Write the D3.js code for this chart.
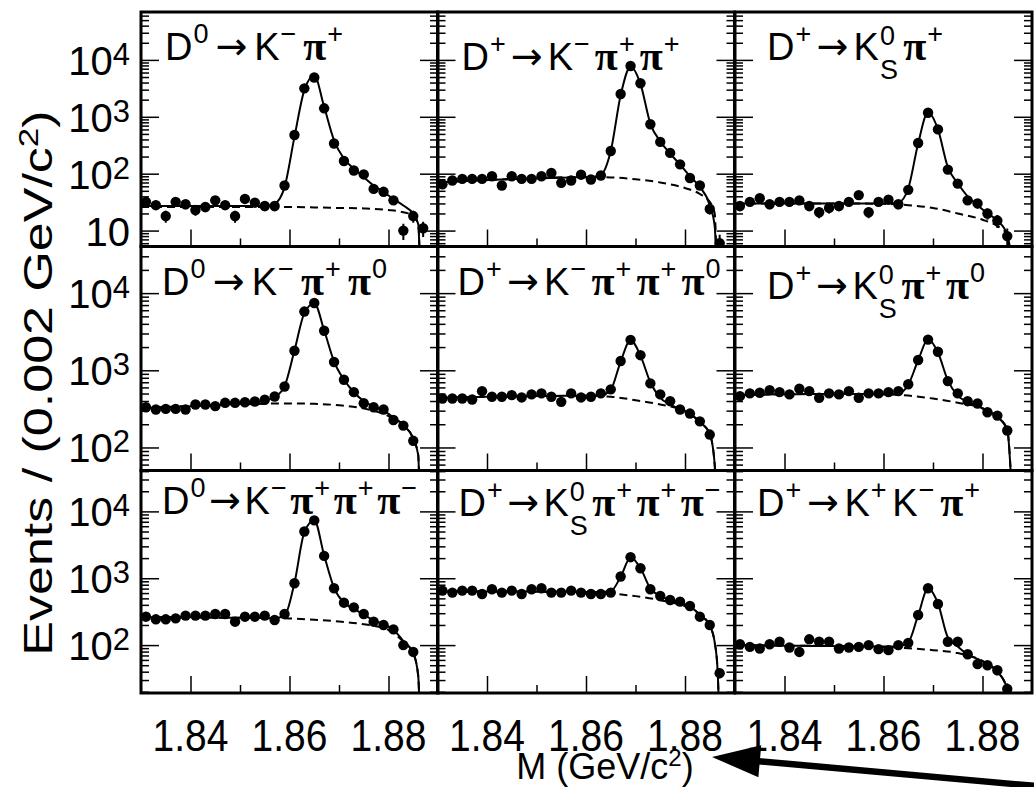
<!DOCTYPE html>
<html>
<head>
<meta charset="utf-8">
<script src="https://cdn.jsdelivr.net/npm/d3@7"></script>
<style>
  body { margin: 0; background: #fff; }
  svg { display: block; }
</style>
</head>
<body>
<svg id="chart" width="1034" height="787"></svg>
<script>
// ---- data ----
// bin centres, 0.002 GeV/c^2 bins
var massBins = [1.831, 1.833, 1.835, 1.837, 1.839, 1.841, 1.843, 1.845, 1.847, 1.849,
                1.851, 1.853, 1.855, 1.857, 1.859, 1.861, 1.863, 1.865, 1.867, 1.869,
                1.871, 1.873, 1.875, 1.877, 1.879, 1.881, 1.883, 1.885, 1.887];
// sample points of the fitted curve (signal + background)
var fitMass = [1.830, 1.831, 1.833, 1.835, 1.837, 1.839, 1.841, 1.843, 1.845, 1.847, 1.849,
               1.851, 1.853, 1.855, 1.857, 1.859, 1.861, 1.863, 1.865, 1.867, 1.869,
               1.871, 1.873, 1.875, 1.877, 1.879, 1.881, 1.883, 1.885, 1.886, 1.8866, 1.8872];
// sample points of the background curve (dashed)
var bkgMass = [1.830, 1.840, 1.850, 1.860, 1.865, 1.870, 1.875, 1.880, 1.883, 1.885, 1.886, 1.8866, 1.8872];

var massRange = [1.83, 1.89];
var xTicksMajor = [1.84, 1.86, 1.88];
var xTicksMinor = [1.85, 1.87];
var rowRange = [[5.25, 69500], [50.3, 40200], [19.2, 40900]];
var rowMajorTicks = [[10, 100, 1000, 10000], [100, 1000, 10000], [100, 1000, 10000]];

// D0 -> K- pi+
var countsKpi = [32, 28, 18, 32, 29, 23, 26, 34, 28, 18, 36, 31, 27, 27, 62, 478, 3160, 4900, 1410, 340,
                 167, 114, 97, 54, 48, 34, 10, 18, 11];
var fitKpi = [27, 27, 27, 27, 27, 27, 27, 27, 27, 27, 27, 27, 27, 27, 29.6, 58, 444, 2950, 5300, 1500, 387,
              183, 123, 87, 62, 47.5, 36, 27.6, 19.6, 13, 0.3, null];
var bkgKpi = [26, 26, 26, 26, 25.5, 25, 24.5, 23, 21, 18.4, 13, 0.3, null];

// D+ -> K- pi+ pi+
var countsKpipi = [65, 76, 81, 81, 81, 90, 62, 90, 81, 81, 90, 103, 69, 76, 96, 79, 93, 251, 2520, 7800,
                   3880, 740, 362, 232, 146, 84, 62, 24, 6];
var fitKpipi = [70, 71, 72, 74, 75, 77, 78, 79, 80, 81, 82, 83, 84, 85, 86, 87, 87, 95, 250, 2400, 7600,
                3800, 760, 370, 225, 145, 90, 58, 28, 12, 0.3, null];
var bkgKpipi = [71, 78, 84, 87, 86, 80, 70, 56, 44, 32, 20, 0.3, null];

// D+ -> Ks pi+
var countsKspi = [27, 32, 37, 29, 32, 32, 34, 27, 21, 25, 27, 32, 42, 21, 32, 35, 29, 52, 346, 1180,
                  600, 118, 67, 34, 30, 20, 15, 8, null];
var fitKspi = [30, 30, 30, 30, 30, 30, 30, 30, 30, 30, 30, 30, 30, 30, 30, 30, 30, 31, 55, 340, 1200,
               600, 130, 68, 40, 28, 20, 15, 8.5, 2, null, null];
var bkgKspi = [30, 30, 30, 29.5, 28, 25, 20, 15.5, 12, 8.5, 2, null, null];

// D0 -> K- pi+ pi0
var countsKpipi0 = [332, 310, 316, 316, 310, 360, 360, 343, 379, 379, 386, 394, 415, 458, 617, 1790, 5770, 7440, 3250, 1280,
                    755, 521, 374, 332, 310, 227, 192, 122, null];
var fitKpipi0 = [322, 325, 328, 332, 336, 340, 345, 350, 355, 360, 365, 372, 385, 405, 450, 620, 1800, 5500, 7400, 3300, 1300,
                 760, 520, 400, 340, 300, 245, 195, 130, 80, 1, null];
var bkgKpipi0 = [325, 345, 362, 372, 368, 352, 320, 255, 195, 130, 80, 1, null];

// D+ -> K- pi+ pi+ pi0
var countsKpipipi0 = [431, 431, 431, 418, 537, 454, 454, 477, 445, 487, 502, 454, 390, 502, 445, 454, 502, 566, 1320, 2480,
                      1570, 676, 487, 398, 310, 275, 218, 147, null];
var fitKpipipi0 = [438, 440, 443, 446, 449, 452, 455, 457, 459, 461, 463, 465, 466, 467, 468, 469, 470, 475, 560, 1300, 2450,
                   1550, 700, 440, 360, 315, 270, 215, 150, 60, 1, null];
var bkgKpipipi0 = [440, 452, 462, 468, 455, 410, 360, 295, 215, 150, 60, 1, null];

// D+ -> Ks pi+ pi0
var countsKspipi0 = [462, 502, 512, 553, 522, 487, 577, 537, 440, 502, 487, 537, 440, 502, 502, 522, 537, 660, 1360, 2500,
                     1740, 725, 502, 398, 371, 286, 259, 166, null];
var fitKspipi0 = [478, 480, 482, 484, 486, 488, 490, 491, 492, 493, 494, 495, 495, 494, 493, 492, 490, 500, 650, 1350, 2500,
                  1700, 740, 470, 390, 345, 300, 250, 170, 20, null, null];
var bkgKspipi0 = [480, 490, 495, 490, 470, 430, 380, 320, 250, 170, 20, null, null];

// D0 -> K- pi+ pi+ pi-
var countsKpipipi = [266, 243, 243, 251, 276, 276, 276, 292, 292, 224, 266, 266, 276, 237, 292, 841, 5000, 7330, 2160, 708,
                     431, 367, 292, 224, 200, 172, 100, 79, null];
var fitKpipipi = [262, 262, 262, 261, 261, 260, 260, 259, 258, 257, 256, 255, 254, 253, 252, 275, 850, 4900, 7400, 2200, 720,
                  430, 350, 285, 235, 205, 170, 115, 77, 35, 1, null];
var bkgKpipipi = [262, 259, 256, 250, 240, 225, 205, 168, 112, 75, 35, 1, null];

// D+ -> Ks pi+ pi+ pi-
var countsKspipipi = [653, 610, 653, 653, 582, 684, 610, 653, 582, 684, 708, 610, 610, 653, 610, 582, 582, 610, 1060, 2065,
                      1410, 684, 543, 473, 447, 385, 266, 200, 38];
var fitKspipipi = [635, 635, 635, 634, 634, 633, 633, 632, 632, 631, 631, 630, 630, 629, 628, 626, 624, 622, 640, 1050, 2050,
                   1420, 700, 545, 470, 430, 375, 285, 195, 110, 40, 1];
var bkgKspipipi = [635, 630, 628, 622, 590, 540, 470, 380, 290, 195, 110, 40, 1];

// D+ -> K+ K- pi+
var countsKKpi = [103, 94, 89, 103, 112, 92, 79, 122, 112, 112, 89, 92, 94, 100, 87, 84, 100, 108, 282, 708,
                  412, 112, 112, 73, 52, 50, 42, 22, null];
var fitKKpi = [100, 100, 100, 99, 99, 98, 98, 98, 97, 97, 97, 96, 96, 96, 95, 95, 95, 97, 110, 280, 700,
               420, 130, 95, 72, 62, 52, 40, 22, 5, null, null];
var bkgKKpi = [100, 98, 97, 94, 90, 84, 76, 58, 40, 22, 5, null, null];

// panel titles: [base, superscript, subscript]
var titles = [
  [['D', '0'], ['→'], ['K', '−'], ['π', '+']],
  [['D', '+'], ['→'], ['K', '−'], ['π', '+'], ['π', '+']],
  [['D', '+'], ['→'], ['K', '0', 'S'], ['π', '+']],
  [['D', '0'], ['→'], ['K', '−'], ['π', '+'], ['π', '0']],
  [['D', '+'], ['→'], ['K', '−'], ['π', '+'], ['π', '+'], ['π', '0']],
  [['D', '+'], ['→'], ['K', '0', 'S'], ['π', '+'], ['π', '0']],
  [['D', '0'], ['→'], ['K', '−'], ['π', '+'], ['π', '+'], ['π', '−']],
  [['D', '+'], ['→'], ['K', '0', 'S'], ['π', '+'], ['π', '+'], ['π', '−']],
  [['D', '+'], ['→'], ['K', '+'], ['K', '−'], ['π', '+']]
];

var panels = [
  {counts: countsKpi, fit: fitKpi, bkg: bkgKpi},
  {counts: countsKpipi, fit: fitKpipi, bkg: bkgKpipi},
  {counts: countsKspi, fit: fitKspi, bkg: bkgKspi},
  {counts: countsKpipi0, fit: fitKpipi0, bkg: bkgKpipi0},
  {counts: countsKpipipi0, fit: fitKpipipi0, bkg: bkgKpipipi0},
  {counts: countsKspipi0, fit: fitKspipi0, bkg: bkgKspipi0},
  {counts: countsKpipipi, fit: fitKpipipi, bkg: bkgKpipipi},
  {counts: countsKspipipi, fit: fitKspipipi, bkg: bkgKspipipi},
  {counts: countsKKpi, fit: fitKKpi, bkg: bkgKKpi}
];

// ---- layout ----
var colLeft = [141, 437.5, 735], colW = 297;
var rowTop = [12, 246.5, 470.5], rowBottom = [246.5, 470.5, 693];
// where each title starts inside its pad (dx from left, baseline dy from top) and how wide it runs
var titlePos = [[24, 48], [24, 58], [32, 48], [21, 48], [20, 48], [32, 52], [21, 43], [21, 45], [22, 45]];
var titleWidth = [178, 218, 176, 225, 263, 218, 255, 262, 223];

var SANS = '"Liberation Sans", Arial, Helvetica, sans-serif';
var svg = d3.select('#chart');
var defs = svg.append('defs');

function minorTicks(dom) {
  var out = [];
  var k0 = Math.floor(Math.log10(dom[0])), k1 = Math.ceil(Math.log10(dom[1]));
  for (var k = k0; k <= k1; k++) {
    for (var m = 2; m <= 9; m++) {
      var v = m * Math.pow(10, k);
      if (v > dom[0] && v < dom[1]) out.push(v);
    }
  }
  return out;
}

// ROOT-like latex title: base glyph, then stacked super/subscript,
// spread so that the whole title covers `width` px
function drawTitle(g, parts, width) {
  var items = parts.map(function(p) {
    var isPi = p[0] === 'π', isArrow = p[0] === '→';
    var it = {};
    it.base = g.append('text')
      .attr('y', isArrow ? -1 : 0)
      .attr('font-family', isPi ? '"Liberation Serif", "Times New Roman", serif' : (isArrow ? '"DejaVu Sans", sans-serif' : SANS))
      .attr('font-weight', isPi ? 'bold' : 'normal')
      .attr('font-size', isPi ? 42 : (isArrow ? 38 : 38))
      .text(p[0]);
    it.w = it.base.node().getComputedTextLength();
    it.sw = 0;
    if (p[1]) {
      it.sup = g.append('text')
        .attr('y', p[2] ? -15 : -17)
        .attr('font-family', SANS)
        .attr('font-size', 27)
        .text(p[1]);
      it.sw = it.sup.node().getComputedTextLength() + 1;
    }
    if (p[2]) {
      it.sub = g.append('text')
        .attr('y', 19)
        .attr('font-family', SANS)
        .attr('font-size', 27)
        .text(p[2]);
      it.sw = Math.max(it.sw, it.sub.node().getComputedTextLength() + 1);
    }
    return it;
  });
  var natural = d3.sum(items, function(it) { return it.w + it.sw; });
  var gap = Math.max(0, (width - natural) / (items.length - 1));
  var x = 0;
  items.forEach(function(it) {
    it.base.attr('x', x);
    if (it.sup) it.sup.attr('x', x + it.w + 1);
    if (it.sub) it.sub.attr('x', x + it.w + 1);
    x += it.w + it.sw + gap;
  });
}

panels.forEach(function(p, k) {
  var c = k % 3, r = Math.floor(k / 3);
  var x = d3.scaleLinear().domain(massRange).range([colLeft[c], colLeft[c] + colW]);
  var y = d3.scaleLog().domain(rowRange[r]).range([rowBottom[r], rowTop[r]]);

  var clipId = 'clip' + k;
  defs.append('clipPath').attr('id', clipId)
    .append('rect')
    .attr('x', colLeft[c]).attr('y', rowTop[r])
    .attr('width', colW).attr('height', rowBottom[r] - rowTop[r]);

  var g = svg.append('g');

  // axis ticks (inward, like ROOT)
  var majors = rowMajorTicks[r], minors = minorTicks(rowRange[r]);
  function yTicks(axisFn, xpos, vals, len) {
    g.append('g')
      .attr('transform', 'translate(' + xpos + ',0)')
      .call(axisFn(y).tickValues(vals).tickSize(-len).tickFormat(''))
      .call(function(a) {
        a.select('.domain').remove();
        a.selectAll('line').attr('stroke', '#000').attr('stroke-width', 1.5);
      });
  }
  yTicks(d3.axisLeft, colLeft[c], majors, 18);
  yTicks(d3.axisLeft, colLeft[c], minors, 8);
  yTicks(d3.axisRight, colLeft[c] + colW, majors, 18);
  yTicks(d3.axisRight, colLeft[c] + colW, minors, 8);

  function xTicks(vals, len) {
    g.append('g')
      .attr('transform', 'translate(0,' + rowBottom[r] + ')')
      .call(d3.axisBottom(x).tickValues(vals).tickSize(-len).tickFormat(''))
      .call(function(a) {
        a.select('.domain').remove();
        a.selectAll('line').attr('stroke', '#000').attr('stroke-width', 1.5);
      });
  }
  xTicks(xTicksMajor, 17);
  xTicks(xTicksMinor, 8);

  var plot = g.append('g').attr('clip-path', 'url(#' + clipId + ')');

  var bkgPts = bkgMass.map(function(m, i) { return [m, p.bkg[i]]; });
  var fitPts = fitMass.map(function(m, i) { return [m, p.fit[i]]; });
  var line = d3.line()
    .defined(function(d) { return d[1] != null && d[1] > 0; })
    .x(function(d) { return x(d[0]); })
    .y(function(d) { return y(d[1]); })
    .curve(d3.curveMonotoneX);

  plot.append('path')
    .attr('d', line(bkgPts))
    .attr('fill', 'none')
    .attr('stroke', '#000')
    .attr('stroke-width', 2)
    .attr('stroke-dasharray', '8,5');

  plot.append('path')
    .attr('d', line(fitPts))
    .attr('fill', 'none')
    .attr('stroke', '#000')
    .attr('stroke-width', 2);

  var pts = massBins.map(function(m, i) { return [m, p.counts[i]]; })
    .filter(function(d) { return d[1] != null; });

  plot.selectAll('line.err').data(pts).enter().append('line')
    .attr('class', 'err')
    .attr('x1', function(d) { return x(d[0]); })
    .attr('x2', function(d) { return x(d[0]); })
    .attr('y1', function(d) { return y(Math.max(d[1] - Math.sqrt(d[1]), 0.01)); })
    .attr('y2', function(d) { return y(d[1] + Math.sqrt(d[1])); })
    .attr('stroke', '#000')
    .attr('stroke-width', 2);

  plot.selectAll('circle').data(pts).enter().append('circle')
    .attr('cx', function(d) { return x(d[0]); })
    .attr('cy', function(d) { return y(d[1]); })
    .attr('r', 5.2)
    .attr('fill', '#000');

  // frame
  g.append('rect')
    .attr('x', colLeft[c]).attr('y', rowTop[r])
    .attr('width', colW).attr('height', rowBottom[r] - rowTop[r])
    .attr('fill', 'none')
    .attr('stroke', '#000')
    .attr('stroke-width', 3);

  // decay title
  var tg = g.append('g')
    .attr('transform', 'translate(' + (colLeft[c] + titlePos[k][0]) + ',' + (rowTop[r] + titlePos[k][1]) + ')');
  drawTitle(tg, titles[k], titleWidth[k]);

  // y tick labels on the first column
  if (c === 0) {
    majors.forEach(function(v) {
      var e = Math.round(Math.log10(v));
      var t = svg.append('text')
        .attr('x', colLeft[0] - 11)
        .attr('y', y(v) + 15)
        .attr('text-anchor', 'end')
        .attr('font-family', SANS)
        .attr('font-size', 40);
      t.append('tspan').text('10');
      if (e > 1) t.append('tspan').attr('dy', -10).attr('font-size', 31).text(e);
    });
  }
  // x tick labels on the bottom row (glyphs are drawn a bit taller than wide in the original)
  if (r === 2) {
    xTicksMajor.forEach(function(v) {
      svg.append('text')
        .attr('transform', 'translate(' + x(v) + ',751) scale(1,1.15)')
        .attr('text-anchor', 'middle')
        .attr('font-family', SANS)
        .attr('font-size', 39)
        .text(d3.format('.2f')(v));
    });
  }
});

// axis titles
var yt = svg.append('text')
  .attr('transform', 'translate(52,383) rotate(-90) scale(1.3,1)')
  .attr('text-anchor', 'middle')
  .attr('font-family', SANS)
  .attr('font-size', 40);
yt.append('tspan').text('Events / (0.002 GeV/c');
yt.append('tspan').attr('dy', -14).attr('font-size', 27).text('2');
yt.append('tspan').attr('dy', 14).text(')');

var xt = svg.append('text')
  .attr('transform', 'translate(605,779)')
  .attr('text-anchor', 'middle')
  .attr('font-family', SANS)
  .attr('font-size', 36);
xt.append('tspan').text('M (GeV/c');
xt.append('tspan').attr('dy', -13).attr('font-size', 24).text('2');
xt.append('tspan').attr('dy', 13).text(')');

// pointer arrow towards the mass label
var tip = [712, 757], tail = [1036, 786];
var dx = tip[0] - tail[0], dy = tip[1] - tail[1], len = Math.sqrt(dx * dx + dy * dy);
var ux = dx / len, uy = dy / len, headL = 48, headW = 16;
var bx = tip[0] - headL * ux, by = tip[1] - headL * uy;
svg.append('line')
  .attr('x1', tail[0]).attr('y1', tail[1])
  .attr('x2', bx + 4 * ux).attr('y2', by + 4 * uy)
  .attr('stroke', '#000').attr('stroke-width', 6.5);
svg.append('path')
  .attr('d', 'M' + tip[0] + ',' + tip[1] +
    'L' + (bx - headW * uy) + ',' + (by + headW * ux) +
    'L' + (bx + headW * uy) + ',' + (by - headW * ux) + 'Z')
  .attr('fill', '#000');
</script>
</body>
</html>
